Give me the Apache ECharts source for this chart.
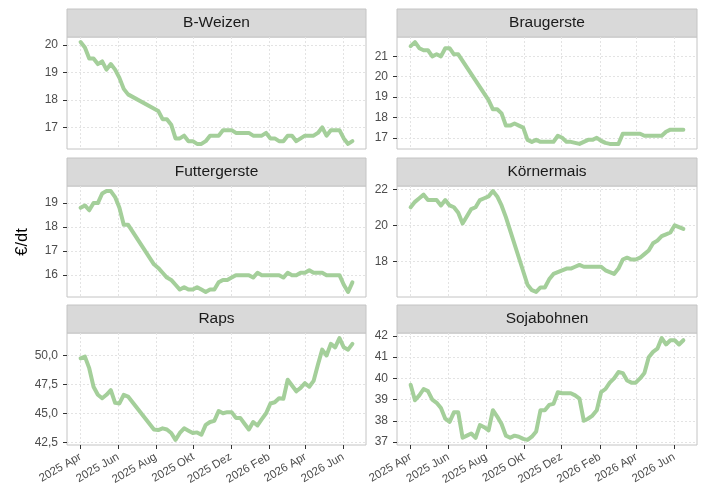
<!DOCTYPE html>
<html><head><meta charset="utf-8">
<script src="https://cdn.jsdelivr.net/npm/echarts@6/dist/echarts.min.js"></script>
<style>html,body{margin:0;padding:0;background:#fff}#c{width:704px;height:486px}</style>
</head><body><div id="c"></div>
<script>
// weekly observation dates
const dates = [
 '2025-04-01','2025-04-08','2025-04-15','2025-04-22','2025-04-29','2025-05-06','2025-05-13','2025-05-20','2025-05-27',
 '2025-06-03','2025-06-10','2025-06-17','2025-06-24','2025-07-01','2025-07-08','2025-07-15','2025-07-22','2025-07-29',
 '2025-08-05','2025-08-12','2025-08-19','2025-08-26','2025-09-02','2025-09-09','2025-09-16','2025-09-23','2025-09-30',
 '2025-10-07','2025-10-14','2025-10-21','2025-10-28','2025-11-04','2025-11-11','2025-11-18','2025-11-25',
 '2025-12-02','2025-12-09','2025-12-16','2025-12-23','2025-12-30','2026-01-06','2026-01-13','2026-01-20','2026-01-27',
 '2026-02-03','2026-02-10','2026-02-17','2026-02-24','2026-03-03','2026-03-10','2026-03-17','2026-03-24','2026-03-31',
 '2026-04-07','2026-04-14','2026-04-21','2026-04-28','2026-05-05','2026-05-12','2026-05-19','2026-05-26',
 '2026-06-02','2026-06-09','2026-06-16'
];
// €/dt values per commodity (null = no quote that week)
const bWeizen = [20.1,19.9,19.5,19.5,19.3,19.4,19.1,19.3,19.1,18.8,18.4,18.2,null,null,null,null,null,null,
 17.6,17.3,17.3,17.1,16.6,16.6,16.7,16.5,16.5,16.4,16.4,16.5,16.7,16.7,16.7,16.9,16.9,16.9,16.8,16.8,16.8,16.8,
 16.7,16.7,16.7,16.8,16.6,16.6,16.5,16.5,16.7,16.7,16.5,16.6,16.7,16.7,16.7,16.8,17.0,16.7,16.9,16.9,16.9,16.6,16.4,16.5];
const braugerste = [21.5,21.7,21.4,21.3,21.3,21.0,21.1,21.0,21.4,21.4,21.1,21.1,null,null,null,null,null,null,
 18.85,18.4,18.4,18.2,17.6,17.6,17.7,17.6,17.5,16.9,16.8,16.9,16.8,16.8,16.8,16.8,17.1,17.0,16.8,16.8,16.75,16.7,
 16.8,16.9,16.9,17.0,16.85,16.75,16.7,16.7,16.7,17.2,17.2,17.2,17.2,17.2,17.1,17.1,17.1,17.1,17.1,17.3,17.4,17.4,17.4,17.4];
const futtergerste = [18.8,18.9,18.7,19.0,19.0,19.4,19.5,19.5,19.25,18.8,18.1,18.1,null,null,null,null,null,
 16.45,16.3,16.1,15.9,15.8,15.6,15.4,15.5,15.4,15.4,15.5,15.4,15.3,15.4,15.4,15.7,15.8,15.8,15.9,16.0,16.0,16.0,16.0,
 15.9,16.1,16.0,16.0,16.0,16.0,16.0,15.9,16.1,16.0,16.0,16.1,16.1,16.2,16.1,16.1,16.1,16.0,16.0,16.0,16.0,15.6,15.3,15.7];
const koernermais = [21.0,21.3,21.5,21.7,21.4,21.4,21.4,21.1,21.4,21.1,21.0,20.7,20.1,20.5,20.9,21.0,21.4,21.5,21.6,21.9,
 21.6,21.1,20.45,null,null,null,null,16.7,16.4,16.3,16.55,16.55,17.0,17.3,17.4,17.5,17.6,17.6,17.7,17.8,
 17.7,17.7,17.7,17.7,17.7,17.5,17.4,17.3,17.6,18.1,18.2,18.1,18.1,18.2,18.4,18.6,19.0,19.15,19.4,19.5,19.6,20.0,19.9,19.8];
const raps = [49.75,49.9,48.9,47.3,46.6,46.3,46.6,47.0,45.9,45.85,46.6,46.45,null,null,null,null,null,
 43.6,43.55,43.7,43.6,43.3,42.7,43.3,43.7,43.5,43.3,43.35,43.15,44.0,44.25,44.35,45.2,45.0,45.1,45.1,44.6,44.6,44.1,43.6,
 44.25,43.95,44.5,45.0,45.85,45.95,46.3,46.25,47.9,47.4,46.9,47.2,47.6,47.3,47.8,49.2,50.5,50.0,51.0,50.7,51.5,50.7,50.5,51.0];
const sojabohnen = [39.7,38.97,39.2,39.5,39.4,39.0,38.85,38.6,38.1,37.95,38.4,38.4,37.2,37.3,37.4,37.2,37.8,37.7,37.55,38.5,
 38.2,37.85,37.3,37.2,37.3,37.25,37.15,37.1,37.25,37.5,38.5,38.5,38.75,38.8,39.35,39.3,39.3,39.3,39.2,39.05,
 38.0,38.1,38.25,38.5,39.35,39.5,39.8,40.0,40.3,40.25,39.9,39.8,39.8,40.0,40.25,41.0,41.25,41.4,41.9,41.6,41.8,41.8,41.6,41.8];

const panelNames = ['B-Weizen','Braugerste','Futtergerste','Körnermais','Raps','Sojabohnen'];
const panelSeries = [bWeizen, braugerste, futtergerste, koernermais, raps, sojabohnen];
const weizenTicks = [17,18,19,20];
const braugersteTicks = [17,18,19,20,21];
const futtergersteTicks = [16,17,18,19];
const koernermaisTicks = [18,20,22];
const rapsTicks = [42.5,45,47.5,50];
const sojaTicks = [37,38,39,40,41,42];
const panelYTicks = [weizenTicks, braugersteTicks, futtergersteTicks, koernermaisTicks, rapsTicks, sojaTicks];
const xTickDates = ['2025-04-01','2025-06-01','2025-08-01','2025-10-01','2025-12-01','2026-02-01','2026-04-01','2026-06-01'];
const xTickLabels = ['2025 Apr','2025 Jun','2025 Aug','2025 Okt','2025 Dez','2026 Feb','2026 Apr','2026 Jun'];
const yTitle = '€/dt';

// layout
const cols = [{left:67,width:299},{left:397,width:300}];
const rows = [{top:37,height:112},{top:186,height:111},{top:333,height:112}];
const stripH = 28;
const FONT = "'Liberation Sans', Arial, sans-serif";
const lineColor = '#a4cf9a';
const borderColor = '#c4c4c4';
const gridColor = '#e3e3e3';

const ts = dates.map(d => Date.parse(d));
const xSpan = ts[ts.length-1] - ts[0];
const xMin = ts[0] - 0.05*xSpan, xMax = ts[ts.length-1] + 0.05*xSpan;
const xTickTs = xTickDates.map(d => Date.parse(d));
const xLabelMap = {};
xTickTs.forEach((t,i)=>{ xLabelMap[t] = xTickLabels[i]; });

const grids=[], xAxes=[], yAxes=[], series=[], graphics=[];
panelNames.forEach((name, p) => {
  const r = Math.floor(p/2), c = p%2;
  const g = {left:cols[c].left, top:rows[r].top, width:cols[c].width, height:rows[r].height,
    show:true, borderColor:borderColor, borderWidth:1, backgroundColor:'#fff', containLabel:false, outerBoundsMode:'none'};
  grids.push(g);
  const vals = panelSeries[p].filter(v => v !== null);
  const vmin = Math.min(...vals), vmax = Math.max(...vals), rng = vmax - vmin;
  const isBottom = r === 2;
  xAxes.push({
    type:'value', gridIndex:p, min:xMin, max:xMax,
    axisLine:{show:false},
    axisTick:{show:isBottom, length:4, lineStyle:{color:'#333', width:1}, customValues:xTickTs},
    axisLabel:{show:isBottom, customValues:xTickTs, rotate:30, fontSize:11.5, color:'#4d4d4d', fontFamily:FONT, margin:11,
      formatter:(v)=> xLabelMap[v] || ''},
    splitLine:{show:true, lineStyle:{color:gridColor, type:[2,2], width:1}}
  });
  const isRaps = name === 'Raps';
  yAxes.push({
    type:'value', gridIndex:p, min:vmin-0.05*rng, max:vmax+0.05*rng,
    axisLine:{show:false},
    axisTick:{show:true, length:4, lineStyle:{color:'#333', width:1}, customValues:panelYTicks[p]},
    axisLabel:{show:true, customValues:panelYTicks[p], fontSize:12, color:'#4d4d4d', fontFamily:FONT, margin:9,
      formatter:(v)=> isRaps ? v.toFixed(1).replace('.',',') : String(Math.round(v))},
    splitLine:{show:true, lineStyle:{color:gridColor, type:[2,2], width:1}}
  });
  series.push({
    type:'line', xAxisIndex:p, yAxisIndex:p, showSymbol:false, connectNulls:true,
    lineStyle:{color:lineColor, width:4, cap:'round', join:'round'},
    data: ts.map((t,i)=> [t, panelSeries[p][i] === null ? '-' : panelSeries[p][i]])
  });
  graphics.push({type:'rect', shape:{x:cols[c].left, y:rows[r].top-stripH, width:cols[c].width, height:stripH},
    style:{fill:'#d9d9d9', stroke:borderColor, lineWidth:1}});
  graphics.push({type:'text', x:cols[c].left+cols[c].width/2, y:rows[r].top-stripH/2,
    style:{text:name, fill:'#1a1a1a', font:'15.5px '+FONT, textAlign:'center', textVerticalAlign:'middle'}});
});
graphics.push({type:'text', x:22, y:242, rotation:Math.PI/2,
  style:{text:yTitle, fill:'#000', font:'16.5px '+FONT, textAlign:'center', textVerticalAlign:'middle'}});

const chart = echarts.init(document.getElementById('c'), null, {renderer:'canvas'});
chart.setOption({
  animation:false,
  backgroundColor:'#fff',
  textStyle:{fontFamily:FONT},
  grid:grids, xAxis:xAxes, yAxis:yAxes, series:series, graphic:graphics
});
</script></body></html>
